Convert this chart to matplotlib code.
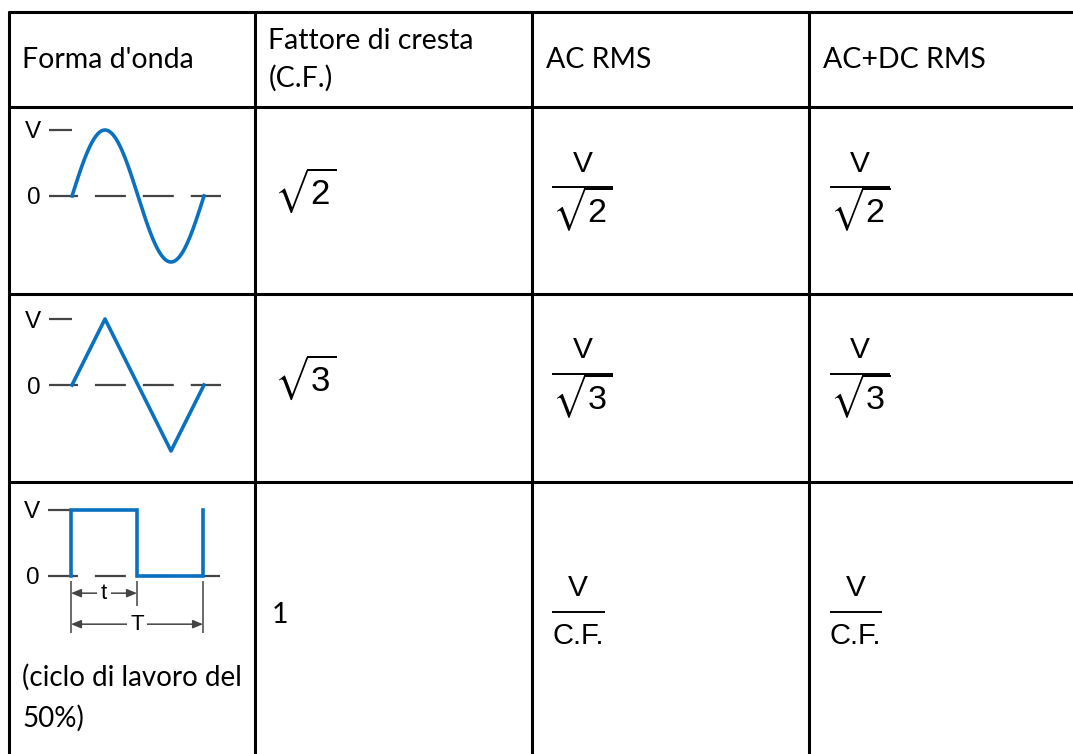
import matplotlib
matplotlib.use("Agg")
import matplotlib.pyplot as plt
import numpy as np

plt.rcParams["font.family"] = ["Liberation Sans", "DejaVu Sans"]
plt.rcParams["mathtext.fontset"] = "stixsans"
plt.rcParams["mathtext.default"] = "regular"
plt.rcParams["lines.scale_dashes"] = False

# table content
headers = ["Forma d'onda", "Fattore di cresta\n(C.F.)", "AC RMS", "AC+DC RMS"]
crest_factor = [r"$\sqrt{2}$", r"$\sqrt{3}$", "1"]
rms_num = ["V", "V", "V"]
rms_den = [r"$\sqrt{2}$", r"$\sqrt{3}$", "C.F."]
square_note = ["(ciclo di lavoro del", "50%)"]

# waveforms, one period, amplitude normalised to V
sine_t = np.linspace(0, 1, 200)
sine_v = np.sin(2 * np.pi * sine_t)
tri_t = [0, 0.25, 0.75, 1.0]
tri_v = [0, 1, -1, 0]
sq_t = [0, 0, 0.5, 0.5, 1, 1]
sq_v = [0, 1, 1, 0, 0, 1]
level_ticks = [0, 1]
level_labels = ["0", "V"]

W, H = 1073, 754
BLUE = "#0a71c0"
GRAY = "#444444"
TXT_FONT = "Lato"

fig = plt.figure(figsize=(W / 100, H / 100), dpi=100)
grid = fig.add_axes([0, 0, 1, 1])
grid.set_xlim(0, W)
grid.set_ylim(H, 0)
grid.axis("off")

col_x = [8.5, 254.5, 531.5, 809]
row_y = [12, 107, 294, 482]
grid.hlines(row_y, col_x[0] - 1, W, color="black", lw=2.2)
grid.vlines(col_x, row_y[0] - 1, H, color="black", lw=2.2)

# header row
for x, s in zip(col_x, headers):
    grid.text(x + 14, 60, s, ha="left", va="center", fontsize=20.5,
              family=TXT_FONT, linespacing=1.5)

renderer = fig.canvas.get_renderer()

# value cells; cell_y is the fraction bar level of each row
cell_y = [187, 374, 612]
for y, cf, num, den in zip(cell_y, crest_factor, rms_num, rms_den):
    if cf.startswith("$"):
        grid.text(col_x[1] + 19, y + 3, cf, ha="left", va="center", fontsize=25)
    else:
        grid.text(col_x[1] + 17, y + 3, cf, ha="left", va="center", fontsize=20.5,
                  family=TXT_FONT)
    is_math = den.startswith("$")
    for x in col_x[2:]:
        x0 = x + 20.5
        d = grid.text(x0, y + (22 if is_math else 24), den, ha="left", va="center",
                      fontsize=24.5 if is_math else 21)
        w = d.get_window_extent(renderer).width
        if not is_math:
            w += 1
        grid.hlines(y, x0, x0 + w, color="black", lw=1.4)
        grid.text(x0 + w / 2, y - 23.5, num, ha="center", va="center", fontsize=21.5)

for i, s in enumerate(square_note):
    grid.text(col_x[0] + 14, 677 + 41 * i, s, ha="left", va="center",
              fontsize=20, family=TXT_FONT)


def wave_axes(x0, y0, t_max=1.13, v_min=-1.1, v_max=1.1, offset=18):
    px_t, px_v = 132, 66
    ax = fig.add_axes([x0 / W, 1 - (y0 - v_min * px_v) / H,
                       t_max * px_t / W, (v_max - v_min) * px_v / H])
    ax.set_xlim(0, t_max)
    ax.set_ylim(v_min, v_max)
    ax.patch.set_visible(False)
    for s in ax.spines.values():
        s.set_visible(False)
    ax.set_xticks([])
    ax.set_yticks(level_ticks, level_labels)
    ax.tick_params(axis="y", length=16.5, width=1.6, color=GRAY, pad=6,
                   labelsize=17.5)
    ax.axhline(0, color=GRAY, lw=1.6, ls=(offset, (22.3, 12.2)))
    return ax


ax1 = wave_axes(72, 196)
ax1.plot(sine_t, sine_v, color=BLUE, lw=2.6, clip_on=False)

ax2 = wave_axes(72, 385)
ax2.plot(tri_t, tri_v, color=BLUE, lw=2.6, clip_on=False)

ax3 = wave_axes(71, 576, offset=17.3)
ax3.plot(sq_t, sq_v, color=BLUE, lw=2.6, clip_on=False, solid_joinstyle="miter")
ax3.vlines([0, 1], -0.08, -0.86, color=GRAY, lw=1.1, clip_on=False)
ax3.vlines([0.5], -0.08, -0.45, color=GRAY, lw=1.1, clip_on=False)
arrow = dict(arrowstyle="<|-|>,head_length=0.6,head_width=0.25", color=GRAY,
             lw=1.1, shrinkA=0, shrinkB=0, mutation_scale=10)
for span, label, y in [(0.5, "t", -0.26), (1.0, "T", -0.73)]:
    ax3.annotate("", xy=(0, y), xytext=(span, y), arrowprops=arrow)
    ax3.text(span / 2, y, label, ha="center", va="center", fontsize=16,
             zorder=5, bbox=dict(fc="white", ec="none", pad=2.5))

fig.savefig("out.png", dpi=100)
